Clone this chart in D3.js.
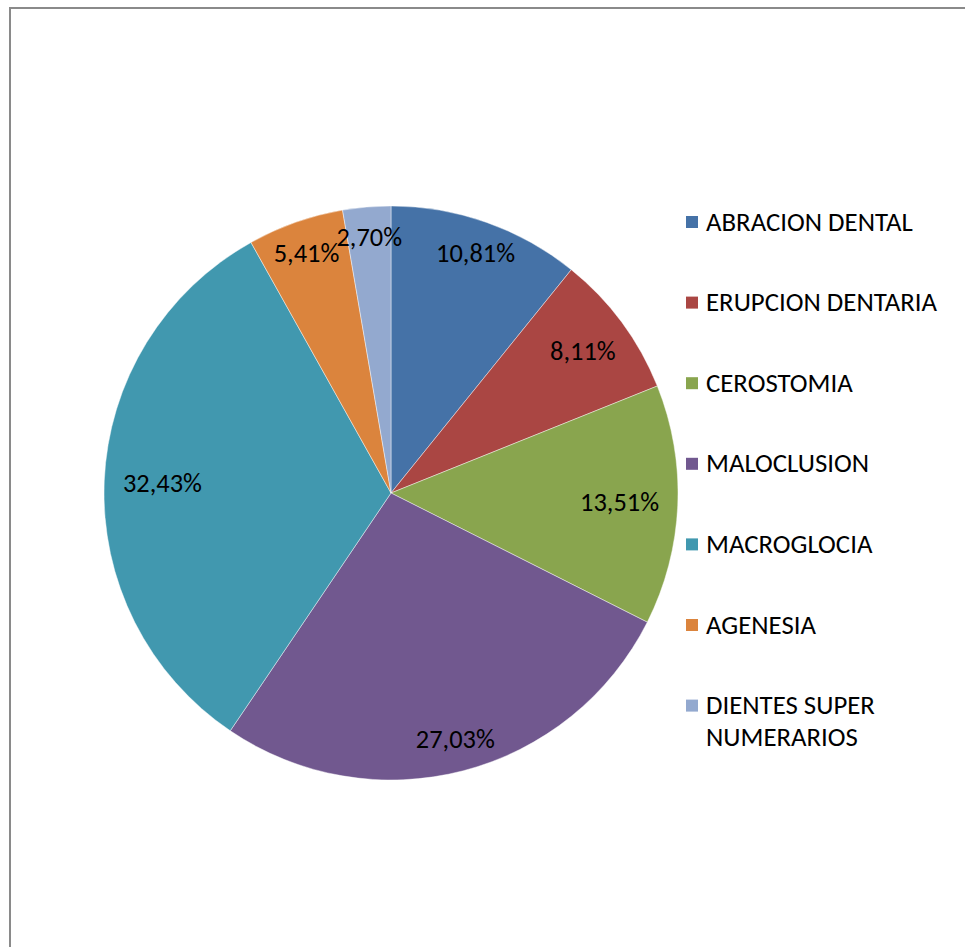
<!DOCTYPE html>
<html>
<head>
<meta charset="utf-8">
<script src="https://cdn.jsdelivr.net/npm/d3@7"></script>
<style>
  html, body { margin: 0; padding: 0; background: #fff; }
  svg { display: block; }
  text { font-family: Carlito, Calibri, Lato, "Open Sans", sans-serif; fill: #000; }
</style>
</head>
<body>
<svg id="chart" width="965" height="947"></svg>
<script>
// Oral findings, share of cases (%)
const categories = [
  "ABRACION DENTAL",
  "ERUPCION DENTARIA",
  "CEROSTOMIA",
  "MALOCLUSION",
  "MACROGLOCIA",
  "AGENESIA",
  "DIENTES SUPER NUMERARIOS"
];
const percentages = [10.81, 8.11, 13.51, 27.03, 32.43, 5.41, 2.70];
const sliceColors = ["#4572A7", "#AA4643", "#89A54E", "#71588F", "#4198AF", "#DB843D", "#93A9CF"];

const width = 965, height = 947;
const cx = 391, cy = 493, radius = 287;
const labelFont = 26.4, legendFont = 26.8;

const svg = d3.select("#chart");

// Chart area frame
svg.append("rect")
  .attr("x", 10).attr("y", 8)
  .attr("width", width + 20).attr("height", height + 20)
  .attr("fill", "#fff")
  .attr("stroke", "#8a8a8a")
  .attr("stroke-width", 2);

const pie = d3.pie().sort(null).value(d => d)(percentages);
const arc = d3.arc().innerRadius(0).outerRadius(radius);
const color = d3.scaleOrdinal().domain(categories).range(sliceColors);

const g = svg.append("g").attr("transform", `translate(${cx},${cy})`);

g.selectAll("path.slice")
  .data(pie)
  .join("path")
  .attr("class", "slice")
  .attr("d", arc)
  .attr("fill", (d, i) => color(categories[i]))
  .attr("stroke", "rgba(255,255,255,0.55)")
  .attr("stroke-width", 0.8);

// Value labels placed toward the inner end of each slice
const fmt = v => v.toFixed(2).replace(".", ",") + "%";
g.selectAll("text.value")
  .data(pie)
  .join("text")
  .attr("class", "value")
  .attr("text-anchor", "middle")
  .attr("dy", "0.32em")
  .attr("font-size", labelFont)
  .attr("transform", d => {
    const a = (d.startAngle + d.endAngle) / 2;
    const s = Math.sin(a);
    const r = radius * (0.895 - 0.098 * s * s);
    return `translate(${r * Math.sin(a)},${-r * Math.cos(a)})`;
  })
  .text(d => fmt(d.data));

// Legend
const legendX = 686, legendTop = 222, legendStep = 80.6, lineHeight = 32, swatch = 12;
const textX = legendX + 20, maxTextWidth = 250;
const legend = svg.append("g");
categories.forEach((name, i) => {
  const y = legendTop + i * legendStep;
  legend.append("rect")
    .attr("x", legendX).attr("y", y - swatch / 2)
    .attr("width", swatch).attr("height", swatch)
    .attr("fill", color(name));
  const t = legend.append("text")
    .attr("x", textX).attr("y", y)
    .attr("font-size", legendFont);
  // wrap long names onto extra lines
  const words = name.split(" ");
  let line = [];
  let tspan = t.append("tspan").attr("x", textX).attr("dy", "0.32em");
  words.forEach(w => {
    line.push(w);
    tspan.text(line.join(" "));
    if (tspan.node().getComputedTextLength() > maxTextWidth && line.length > 1) {
      line.pop();
      tspan.text(line.join(" "));
      line = [w];
      tspan = t.append("tspan").attr("x", textX).attr("dy", lineHeight).text(w);
    }
  });
});
</script>
</body>
</html>
